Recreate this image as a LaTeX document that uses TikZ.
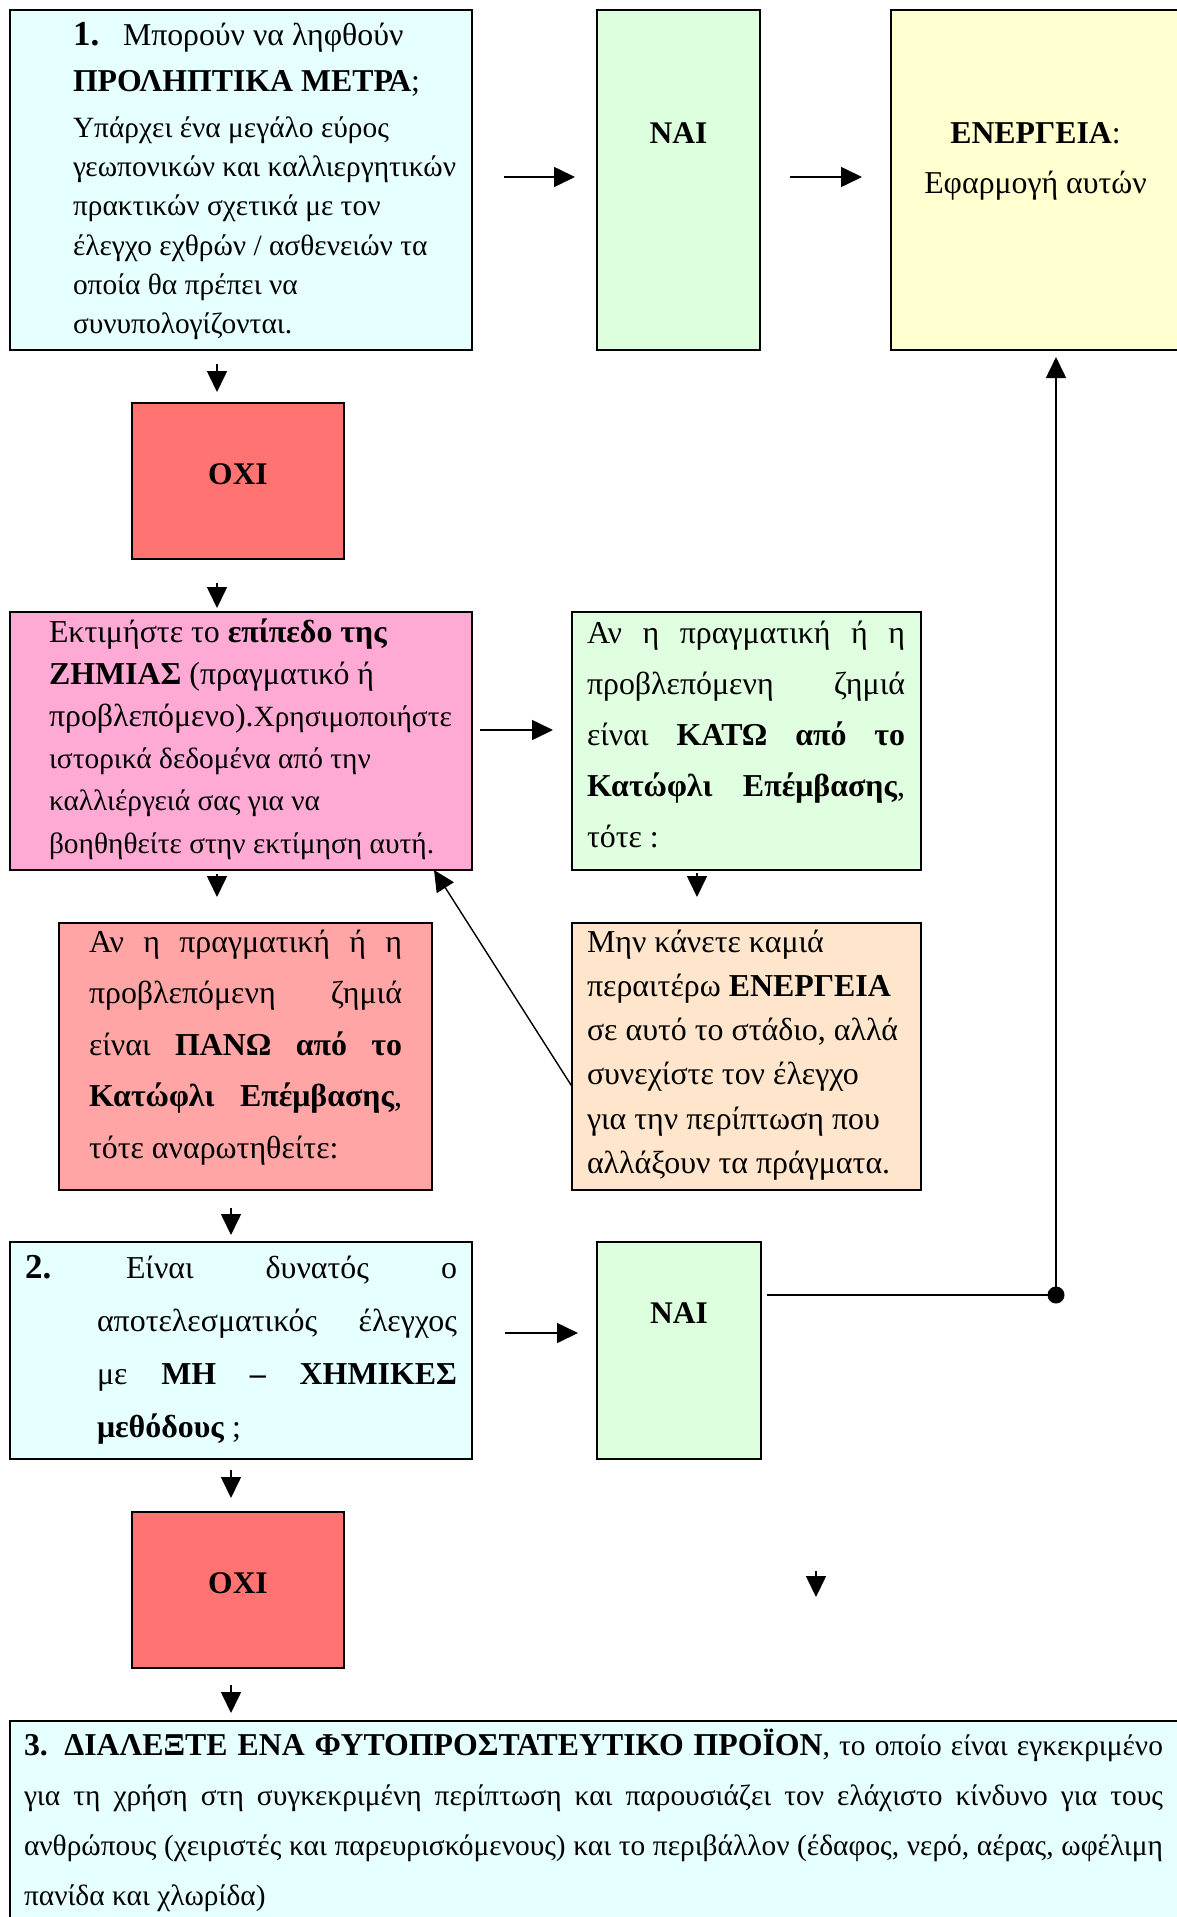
\documentclass[tikz,border=0pt]{standalone}
\usepackage{fontspec}
\setmainfont{Liberation Serif}
\usetikzlibrary{arrows.meta,calc}
\definecolor{cyanbox}{HTML}{E6FFFF}
\definecolor{naibox}{HTML}{DDFFDD}
\definecolor{actbox}{HTML}{FFFFD0}
\definecolor{oxibox}{HTML}{FF7373}
\definecolor{pinkbox}{HTML}{FFAAD5}
\definecolor{panwbox}{HTML}{FFA5A5}
\definecolor{katwbox}{HTML}{E0FFE0}
\definecolor{mhnbox}{HTML}{FFE5CB}
\newcommand{\myfs}[2]{\fontsize{#1}{#2}\selectfont}
\newcommand{\boxfont}[2]{\fontsize{#1}{#2}\selectfont\spaceskip=0pt\xspaceskip=0pt\relax}
\begin{document}
\begin{tikzpicture}[x=1pt,y=-1pt,
  box/.style={draw, line width=2.5pt, inner sep=0pt, outer sep=0pt, anchor=north west},
  arr/.style={line width=1.6pt, -{Triangle[length=21pt,width=20pt]}}
]
\useasboundingbox (0,0) rectangle (1176,1917);

% guides
\coordinate (gx1) at (217,0);
\coordinate (gx2) at (231,0);
\coordinate (gx3) at (697,0);
\coordinate (gy1) at (0,177);
\coordinate (gy2) at (0,730);
\coordinate (gy3) at (0,1333);
\coordinate (junc) at (1056,1295);

% box 1
\node[box, fill=cyanbox, minimum width=462pt, minimum height=340pt, text width=442pt,
  align=flush left, text height=35pt, text depth=305pt] (q1) at (10,10)
{\boxfont{29.4}{39.2}\leftskip=53pt
\makebox[50pt][l]{\myfs{35}{39.2}\bfseries 1.}{\myfs{31.8}{39.2}Μπορούν να ληφθούν}\\[7pt]
{\myfs{31.8}{39.2}\bfseries ΠΡΟΛΗΠΤΙΚΑ ΜΕΤΡΑ}{\myfs{31.8}{39.2};}\\[7pt]
Υπάρχει ένα μεγάλο εύρος\\
γεωπονικών και καλλιεργητικών\\
πρακτικών σχετικά με τον\\
έλεγχο εχθρών / ασθενειών τα\\
οποία θα πρέπει να\\
συνυπολογίζονται.\par};

% NAI 1
\node[box, fill=naibox, minimum width=163pt, minimum height=340pt, text width=143pt,
  align=flush center, text height=133pt, text depth=207pt] (nai1) at (597,10)
{\boxfont{31.5}{50}\bfseries ΝΑΙ\par};

% ENERGEIA
\node[box, fill=actbox, minimum width=289pt, minimum height=340pt, text width=269pt,
  align=flush center, text height=133pt, text depth=207pt] (act) at (891,10)
{\boxfont{31.8}{50}\textbf{ΕΝΕΡΓΕΙΑ}:\\ Εφαρμογή αυτών\par};

% OXI 1
\node[box, fill=oxibox, minimum width=212pt, minimum height=156pt, text width=192pt,
  align=flush center, text height=81pt, text depth=75pt] (oxi1) at (132,403)
{\boxfont{31.5}{40}\bfseries ΟΧΙ\par};

% pink
\node[box, fill=pinkbox, minimum width=462pt, minimum height=258pt, text width=442pt,
  align=flush left, text height=30pt, text depth=228pt] (pink) at (10,612)
{\boxfont{29.4}{42.2}\leftskip=29pt
{\myfs{31.9}{42.2}Εκτιμήστε το \textbf{επίπεδο της}}\\
{\myfs{31.9}{42.2}\textbf{ΖΗΜΙΑΣ} (πραγματικό ή}\\
{\myfs{31.9}{42.2}προβλεπόμενο).}Χρησιμοποιήστε\\
ιστορικά δεδομένα από την\\
καλλιέργειά σας για να\\
βοηθηθείτε στην εκτίμηση αυτή.\par};

% KATW green
\node[box, fill=katwbox, minimum width=349pt, minimum height=258pt, text width=329pt,
  align=justify, text height=31pt, text depth=227pt] (katw) at (572,612)
{\boxfont{31.9}{51}\leftskip=5pt\rightskip=6pt
Αν η πραγματική ή η\linebreak
προβλεπόμενη ζημιά\linebreak
είναι \textbf{ΚΑΤΩ από το}\linebreak
\textbf{Κατώφλι Επέμβασης},\linebreak
τότε :\par};

% PANW
\node[box, fill=panwbox, minimum width=373pt, minimum height=267pt, text width=353pt,
  align=justify, text height=29pt, text depth=238pt] (panw) at (59,923)
{\boxfont{31.9}{51.5}\leftskip=20pt\rightskip=20pt
Αν η πραγματική ή η\linebreak
προβλεπόμενη ζημιά\linebreak
είναι \textbf{ΠΑΝΩ από το}\linebreak
\textbf{Κατώφλι Επέμβασης},\linebreak
τότε αναρωτηθείτε:\par};

% MHN
\node[box, fill=mhnbox, minimum width=349pt, minimum height=267pt, text width=329pt,
  align=flush left, text height=29pt, text depth=238pt] (mhn) at (572,923)
{\boxfont{31.9}{44.3}\leftskip=5pt
Μην κάνετε καμιά\\
περαιτέρω \textbf{ΕΝΕΡΓΕΙΑ}\\
σε αυτό το στάδιο, αλλά\\
συνεχίστε τον έλεγχο\\
για την περίπτωση που\\
αλλάξουν τα πράγματα.\par};

% box 2
\node[box, fill=cyanbox, minimum width=462pt, minimum height=217pt, text width=442pt,
  align=justify, text height=36pt, text depth=181pt] (q2) at (10,1242)
{\boxfont{31.9}{53.3}\leftskip=5pt\rightskip=5pt\hangindent=72pt\hangafter=1
\makebox[101pt][l]{\myfs{35}{53.3}\bfseries 2.}Είναι δυνατός ο\linebreak
αποτελεσματικός έλεγχος\linebreak
με \textbf{ΜΗ – ΧΗΜΙΚΕΣ}\linebreak
\textbf{μεθόδους} ;\par};

% NAI 2
\node[box, fill=naibox, minimum width=164pt, minimum height=217pt, text width=144pt,
  align=flush center, text height=81pt, text depth=136pt] (nai2) at (597,1242)
{\boxfont{31.5}{40}\bfseries ΝΑΙ\par};

% OXI 2
\node[box, fill=oxibox, minimum width=212pt, minimum height=156pt, text width=192pt,
  align=flush center, text height=81pt, text depth=75pt] (oxi2) at (132,1512)
{\boxfont{31.5}{40}\bfseries ΟΧΙ\par};

% box 3
\node[box, fill=cyanbox, minimum width=1170pt, minimum height=204pt, text width=1150pt,
  align=justify, text height=34pt, text depth=170pt] (q3) at (10,1721)
{\boxfont{29.4}{50}\leftskip=4pt\rightskip=7pt
{\myfs{31.8}{50}\bfseries 3. ΔΙΑΛΕΞΤΕ ΕΝΑ ΦΥΤΟΠΡΟΣΤΑΤΕΥΤΙΚΟ ΠΡΟΪΟΝ}, το οποίο είναι εγκεκριμένο\linebreak
για τη χρήση στη συγκεκριμένη περίπτωση και παρουσιάζει τον ελάχιστο κίνδυνο για τους\linebreak
ανθρώπους (χειριστές και παρευρισκόμενους) και το περιβάλλον (έδαφος, νερό, αέρας, ωφέλιμη\linebreak
πανίδα και χλωρίδα)\par};

% connectors
\draw[arr, shorten <=32pt, shorten >=22pt] (q1.east |- gy1) -- (nai1.west |- gy1);
\draw[arr, shorten <=30pt, shorten >=29pt] (nai1.east |- gy1) -- (act.west |- gy1);
\draw[arr, shorten <=14pt, shorten >=11pt] (gx1 |- q1.south) -- (gx1 |- oxi1.north);
\draw[arr, shorten <=24pt, shorten >=4pt] (gx1 |- oxi1.south) -- (gx1 |- pink.north);
\draw[arr, shorten <=4pt, shorten >=26pt] (gx1 |- pink.south) -- (gx1 |- panw.north);
\draw[arr, shorten <=8pt, shorten >=19pt] (pink.east |- gy2) -- (katw.west |- gy2);
\draw[arr, shorten <=3pt, shorten >=26pt] (gx3 |- katw.south) -- (gx3 |- mhn.north);
\draw[arr, line width=1.4pt] ($(mhn.west)+(0,30)$) -- ($(pink.south east)+(-38,0)$);
\draw[arr, shorten <=18pt, shorten >=7pt] (gx2 |- panw.south) -- (gx2 |- q2.north);
\draw[arr, shorten <=33pt, shorten >=19pt] (q2.east |- gy3) -- (nai2.west |- gy3);
\draw[arr, shorten <=11pt, shorten >=14pt] (gx2 |- q2.south) -- (gx2 |- oxi2.north);
\draw[arr, shorten <=17pt, shorten >=8pt] (gx2 |- oxi2.south) -- (gx2 |- q3.north);
\draw[arr, shorten <=6pt, shorten >=7pt] (nai2.east |- junc) -- (junc) -- (junc |- act.south);
\fill (junc) circle (8.5pt);
\coordinate (s1) at (816,1571);
\coordinate (s2) at (816,1597);
\draw[arr] (s1) -- (s2);
\end{tikzpicture}
\end{document}
